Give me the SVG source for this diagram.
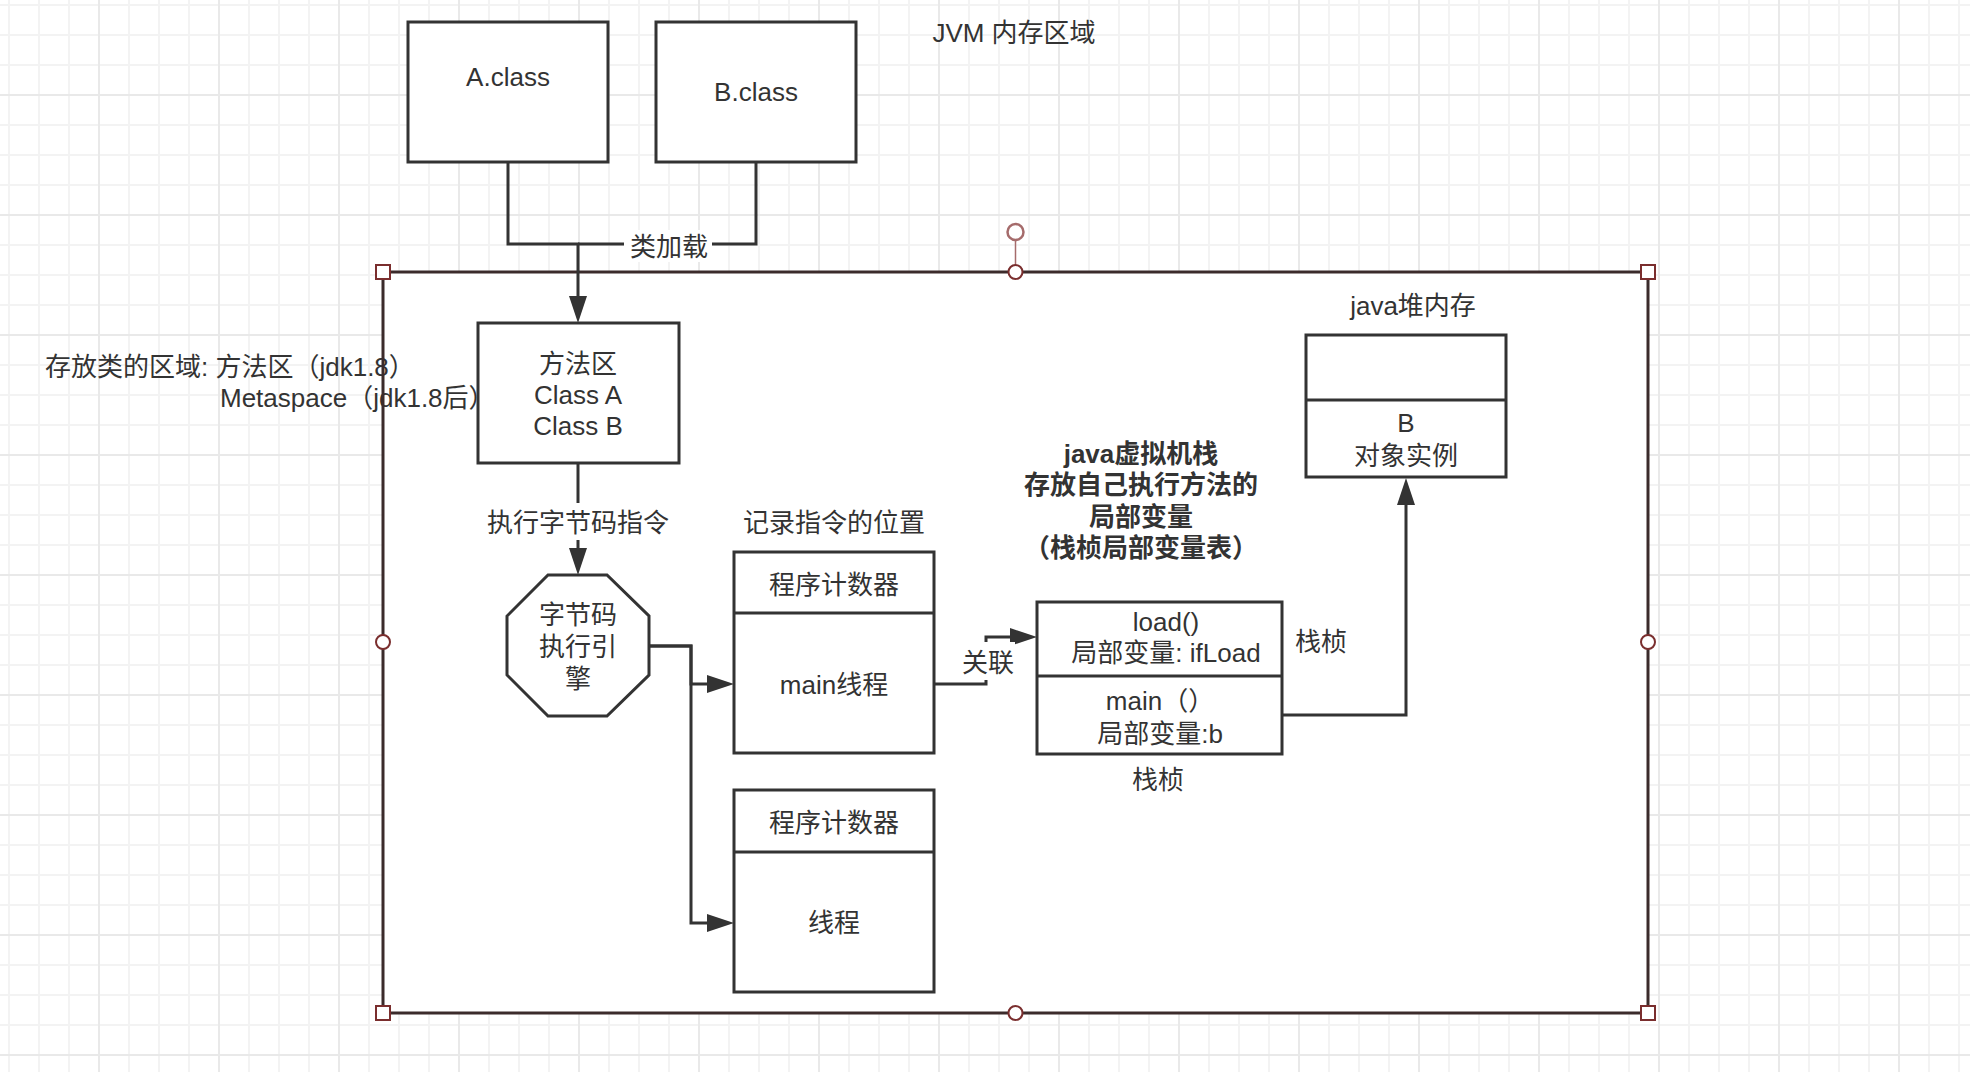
<svg xmlns="http://www.w3.org/2000/svg" width="1970" height="1072" viewBox="0 0 1970 1072">
<defs>
  <pattern id="gridMinor" x="8" y="4" width="30" height="30" patternUnits="userSpaceOnUse">
    <rect x="0" y="0" width="2" height="30" fill="#f3f3f3"/>
    <rect x="0" y="0" width="30" height="2" fill="#f3f3f3"/>
  </pattern>
  <pattern id="gridMajor" x="98" y="94" width="120" height="120" patternUnits="userSpaceOnUse">
    <rect x="0" y="0" width="2" height="120" fill="#e9e9e9"/>
    <rect x="0" y="0" width="120" height="2" fill="#e9e9e9"/>
  </pattern>
  <marker id="arrow" markerUnits="userSpaceOnUse" markerWidth="27" markerHeight="18" viewBox="0 0 27 18" refX="0" refY="9" orient="auto">
    <path d="M0,0 L27,9 L0,18 Z" fill="#333333"/>
  </marker>
  <style>
    .box { fill: #ffffff; stroke: #333333; stroke-width: 3; }
    .div { stroke: #333333; stroke-width: 3; fill: none; }
    .edge { fill: none; stroke: #333333; stroke-width: 3; }
    .t { font-family: "Liberation Sans", "Noto Sans CJK SC", sans-serif; font-size: 26px; fill: #333333; text-anchor: middle; }
    .ts { text-anchor: start; }
    .b { font-weight: bold; }
    .lbg { fill: #ffffff; stroke: none; }
    .hsq { fill: #ffffff; stroke: #7a2e2e; stroke-width: 2; }
    .hci { fill: #ffffff; stroke: #7a2e2e; stroke-width: 2; }
  </style>
</defs>

<rect x="0" y="0" width="1970" height="1072" fill="#ffffff"/>
<rect x="0" y="0" width="1970" height="1072" fill="url(#gridMinor)"/>
<rect x="0" y="0" width="1970" height="1072" fill="url(#gridMajor)"/>

<text class="t" x="1014" y="42">JVM 内存区域</text>

<g id="jvm-area-fill">
  <rect x="383" y="272" width="1265" height="741" fill="#ffffff"/>
</g>

<g id="note-method-area">
  <text class="t ts" x="45" y="376">存放类的区域: 方法区（jdk1.8）</text>
  <text class="t ts" x="220" y="407">Metaspace（jdk1.8后）</text>
</g>

<g id="jvm-area">
  <rect x="383" y="272" width="1265" height="741" fill="none" stroke="#3b2b2b" stroke-width="3"/>
</g>

<g id="node-a-class">
  <rect class="box" x="408" y="22" width="200" height="140"/>
  <text class="t" x="508" y="86">A.class</text>
</g>

<g id="node-b-class">
  <rect class="box" x="656" y="22" width="200" height="140"/>
  <text class="t" x="756" y="101">B.class</text>
</g>

<g id="node-method-area">
  <rect class="box" x="478" y="323" width="201" height="140"/>
  <text class="t" x="578" y="373">方法区</text>
  <text class="t" x="578" y="404">Class A</text>
  <text class="t" x="578" y="435">Class B</text>
</g>

<g id="node-engine">
  <polygon class="box" points="548,575 607,575 649,616 649,675 607,716 548,716 507,675 507,616"/>
  <text class="t" x="578" y="624">字节码</text>
  <text class="t" x="578" y="656">执行引</text>
  <text class="t" x="578" y="688">擎</text>
</g>

<g id="label-pc">
  <text class="t" x="834" y="532">记录指令的位置</text>
</g>

<g id="node-main-thread">
  <rect class="box" x="734" y="552" width="200" height="201"/>
  <line class="div" x1="734" y1="613" x2="934" y2="613"/>
  <text class="t" x="834" y="594">程序计数器</text>
  <text class="t" x="834" y="694">main线程</text>
</g>

<g id="node-thread">
  <rect class="box" x="734" y="790" width="200" height="202"/>
  <line class="div" x1="734" y1="852" x2="934" y2="852"/>
  <text class="t" x="834" y="832">程序计数器</text>
  <text class="t" x="834" y="932">线程</text>
</g>

<g id="label-vm-stack">
  <text class="t b" x="1141" y="463">java虚拟机栈</text>
  <text class="t b" x="1141" y="494">存放自己执行方法的</text>
  <text class="t b" x="1141" y="526">局部变量</text>
  <text class="t b" x="1141" y="557">（栈桢局部变量表）</text>
</g>

<g id="node-stack">
  <rect class="box" x="1037" y="602" width="245" height="152"/>
  <line class="div" x1="1037" y1="676" x2="1282" y2="676"/>
  <text class="t" x="1166" y="631">load()</text>
  <text class="t" x="1166" y="662">局部变量: ifLoad</text>
  <text class="t" x="1160" y="710">main（）</text>
  <text class="t" x="1160" y="743">局部变量:b</text>
</g>

<g id="label-frame-right">
  <text class="t" x="1321" y="651">栈桢</text>
</g>
<g id="label-frame-bottom">
  <text class="t" x="1158" y="789">栈桢</text>
</g>

<g id="label-heap">
  <text class="t" x="1413" y="315">java堆内存</text>
</g>

<g id="node-heap">
  <rect class="box" x="1306" y="335" width="200" height="142"/>
  <line class="div" x1="1306" y1="400" x2="1506" y2="400"/>
  <text class="t" x="1406" y="432">B</text>
  <text class="t" x="1406" y="465">对象实例</text>
</g>

<g id="connectors">
  <path class="edge" d="M508,162 V244 H578 V296" marker-end="url(#arrow)"/>
  <path class="edge" d="M756,162 V244 H578"/>
  <rect class="lbg" x="624" y="230" width="88" height="32"/>
  <text class="t" x="669" y="256">类加载</text>

  <path class="edge" d="M578,463 V548" marker-end="url(#arrow)"/>
  <rect class="lbg" x="486" y="503" width="184" height="37"/>
  <text class="t" x="578" y="532">执行字节码指令</text>

  <path class="edge" d="M649,646 H691 V684 H707" marker-end="url(#arrow)"/>
  <path class="edge" d="M649,646 H691 V923 H707" marker-end="url(#arrow)"/>

  <path class="edge" d="M934,684 H986 V637 H1010" marker-end="url(#arrow)"/>
  <rect class="lbg" x="961" y="642" width="54" height="38"/>
  <text class="t" x="988" y="672">关联</text>

  <path class="edge" d="M1282,715 H1406 V505" marker-end="url(#arrow)"/>
</g>

<g id="selection-handles">
  <line x1="1015.5" y1="240" x2="1015.5" y2="265" stroke="#a56b6b" stroke-width="1.5"/>
  <circle cx="1015.5" cy="232" r="8" fill="#ffffff" stroke="#a56b6b" stroke-width="2.5"/>
  <rect class="hsq" x="376" y="265" width="14" height="14"/>
  <rect class="hsq" x="1641" y="265" width="14" height="14"/>
  <rect class="hsq" x="376" y="1006" width="14" height="14"/>
  <rect class="hsq" x="1641" y="1006" width="14" height="14"/>
  <circle class="hci" cx="1015.5" cy="272" r="7"/>
  <circle class="hci" cx="1015.5" cy="1013" r="7"/>
  <circle class="hci" cx="383" cy="642" r="7"/>
  <circle class="hci" cx="1648" cy="642" r="7"/>
</g>
</svg>
